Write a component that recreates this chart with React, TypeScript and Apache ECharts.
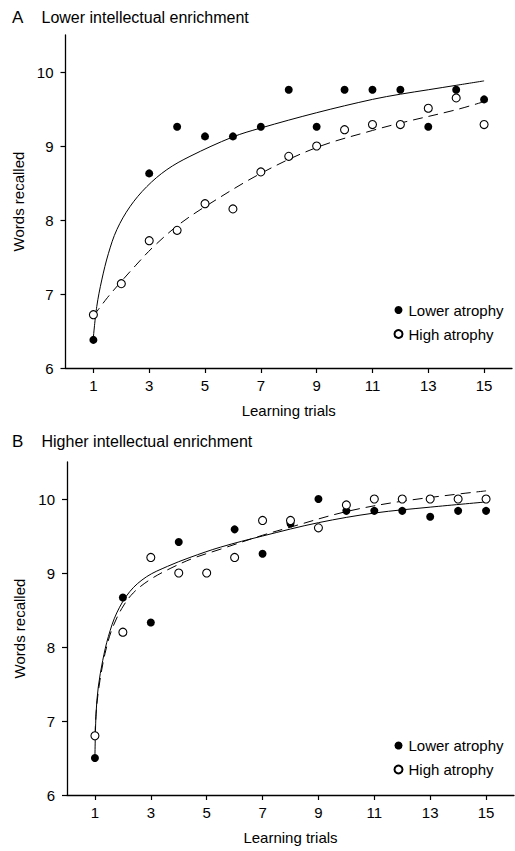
import React, { useEffect, useRef } from "react";
import * as echarts from "echarts";

// ---- data ----
const trials = [1, 2, 3, 4, 5, 6, 7, 8, 9, 10, 11, 12, 13, 14, 15];
const xTicks = [1, 3, 5, 7, 9, 11, 13, 15];
const yTicks = [6, 7, 8, 9, 10];

// Panel A: lower intellectual enrichment
const aLowerAtrophy = [6.38, 7.14, 8.63, 9.26, 9.13, 9.13, 9.26, 9.76, 9.26, 9.76, 9.76, 9.76, 9.26, 9.76, 9.63];
const aHighAtrophy = [6.72, 7.14, 7.72, 7.86, 8.22, 8.15, 8.65, 8.86, 9.0, 9.22, 9.29, 9.29, 9.51, 9.65, 9.29];

// fitted curves
const aLowerFitX = [1.0, 1.12, 1.3, 1.54, 1.84, 2.31, 2.91, 3.63, 4.46, 5.98, 6.97, 9.0, 11.0, 12.0, 13.0, 14.0, 15.0];
const aLowerFitY = [6.42, 6.83, 7.19, 7.55, 7.87, 8.18, 8.45, 8.68, 8.86, 9.12, 9.24, 9.45, 9.63, 9.7, 9.76, 9.82, 9.88];
const aHighFitX = [1.0, 1.5, 2.0, 2.5, 3.1, 4.0, 5.0, 7.0, 9.0, 11.0, 12.0, 14.0, 15.0];
const aHighFitY = [6.7, 6.95, 7.17, 7.38, 7.62, 7.92, 8.18, 8.63, 8.98, 9.21, 9.31, 9.49, 9.6];

// Panel B: higher intellectual enrichment
const bLowerAtrophy = [6.5, 8.67, 8.33, 9.42, 9.0, 9.59, 9.26, 9.67, 10.0, 9.84, 9.84, 9.84, 9.76, 9.84, 9.84];
const bHighAtrophy = [6.8, 8.2, 9.21, 9.0, 9.0, 9.21, 9.71, 9.71, 9.61, 9.92, 10.0, 10.0, 10.0, 10.0, 10.0];

const bLowerFitX = [1.0, 1.04, 1.12, 1.28, 1.48, 1.78, 2.25, 2.85, 3.6, 4.4, 5.5, 7.0, 9.0, 11.0, 13.0, 15.0];
const bLowerFitY = [6.52, 7.1, 7.46, 7.82, 8.14, 8.46, 8.75, 8.95, 9.09, 9.21, 9.35, 9.5, 9.68, 9.81, 9.89, 9.96];
const bHighFitX = [1.0, 1.06, 1.18, 1.36, 1.6, 1.96, 2.37, 2.97, 3.69, 4.52, 5.48, 7.0, 8.0, 10.0, 12.0, 15.0];
const bHighFitY = [6.8, 7.19, 7.55, 7.91, 8.23, 8.52, 8.73, 8.91, 9.06, 9.2, 9.32, 9.51, 9.62, 9.83, 9.97, 10.11];

const seriesNames = ["Lower atrophy", "High atrophy"];
const panelTitles = ["Lower intellectual enrichment", "Higher intellectual enrichment"];
const panelLetters = ["A", "B"];
const xName = "Learning trials";
const yName = "Words recalled";

const FONT = '"Liberation Sans", Arial, Helvetica, sans-serif';

const zip = (xs: number[], ys: number[]) => xs.map((x, i) => [x, ys[i]]);

export default function App() {
  const ref = useRef<HTMLDivElement>(null);

  useEffect(() => {
    if (!ref.current) return;
    const chart = echarts.init(ref.current, undefined, { renderer: "svg" });

    const grids = [
      { left: 65.5, top: 35, width: 446.5, height: 333 },
      { left: 67, top: 462, width: 447, height: 333 },
    ];

    const xAxisBase = (gridIndex: number) => ({
      type: "value",
      gridIndex,
      min: 0,
      max: 16,
      name: xName,
      nameLocation: "middle",
      nameGap: 35,
      nameTextStyle: { fontFamily: FONT, fontSize: 15, color: "#000" },
      axisLine: { show: true, lineStyle: { color: "#000", width: 1.3 } },
      axisTick: { show: true, length: 5, customValues: xTicks, lineStyle: { color: "#000", width: 1.2 } },
      axisLabel: { customValues: xTicks, margin: 10, fontFamily: FONT, fontSize: 15, color: "#000" },
      splitLine: { show: false },
    });

    const yAxisBase = (gridIndex: number) => ({
      type: "value",
      gridIndex,
      min: 6,
      max: 10.5,
      name: yName,
      nameLocation: "middle",
      nameGap: 37,
      nameTextStyle: { fontFamily: FONT, fontSize: 15, color: "#000" },
      axisLine: { show: true, lineStyle: { color: "#000", width: 1.3 } },
      axisTick: { show: true, length: 5, customValues: yTicks, lineStyle: { color: "#000", width: 1.2 } },
      axisLabel: { customValues: yTicks, margin: 12, fontFamily: FONT, fontSize: 15, color: "#000" },
      splitLine: { show: false },
    });

    const filledStyle = { color: "#000", borderColor: "#000", borderWidth: 0, opacity: 1 };
    const openStyle = { color: "#fff", borderColor: "#000", borderWidth: 1.1, opacity: 1 };

    const panelSeries = (
      idx: number,
      lower: number[],
      high: number[],
      lfx: number[],
      lfy: number[],
      hfx: number[],
      hfy: number[]
    ) => [
      {
        name: "fit-lower-" + idx,
        type: "line",
        xAxisIndex: idx,
        yAxisIndex: idx,
        data: zip(lfx, lfy),
        smooth: 0.35,
        showSymbol: false,
        symbol: "none",
        lineStyle: { color: "#000", width: 1, type: "solid" },
        z: 2,
        silent: true,
      },
      {
        name: "fit-high-" + idx,
        type: "line",
        xAxisIndex: idx,
        yAxisIndex: idx,
        data: zip(hfx, hfy),
        smooth: 0.35,
        showSymbol: false,
        symbol: "none",
        lineStyle: { color: "#000", width: 1, type: [10, 6] },
        z: 2,
        silent: true,
      },
      {
        name: seriesNames[0],
        type: "scatter",
        xAxisIndex: idx,
        yAxisIndex: idx,
        data: zip(trials, lower),
        symbol: "circle",
        symbolSize: 8,
        itemStyle: filledStyle,
        z: 3,
      },
      {
        name: seriesNames[1],
        type: "scatter",
        xAxisIndex: idx,
        yAxisIndex: idx,
        data: zip(trials, high),
        symbol: "circle",
        symbolSize: 8,
        itemStyle: openStyle,
        z: 4,
      },
    ];

    const legendBase = (top: number) => ({
      orient: "vertical",
      left: 393.5,
      top,
      padding: 0,
      itemWidth: 8,
      itemHeight: 8,
      itemGap: 9,
      icon: "circle",
      selectedMode: false,
      data: seriesNames,
      itemStyle: { opacity: 1 },
      textStyle: { fontFamily: FONT, fontSize: 15, color: "#000", lineHeight: 15, padding: [0, 0, 0, 1] },
    });

    const titleGraphic = (letterY: number, i: number) => [
      {
        type: "text",
        x: 12,
        y: letterY,
        style: { text: panelLetters[i], font: `17px ${FONT}`, fill: "#000", verticalAlign: "middle" },
      },
      {
        type: "text",
        x: 41.5,
        y: letterY,
        style: { text: panelTitles[i], font: `16px ${FONT}`, fill: "#000", verticalAlign: "middle" },
      },
    ];

    chart.setOption({
      animation: false,
      backgroundColor: "#fff",
      grid: grids,
      xAxis: [xAxisBase(0), xAxisBase(1)],
      yAxis: [yAxisBase(0), yAxisBase(1)],
      legend: [legendBase(302.5), legendBase(738)],
      graphic: [...titleGraphic(17, 0), ...titleGraphic(441, 1)],
      series: [
        ...panelSeries(0, aLowerAtrophy, aHighAtrophy, aLowerFitX, aLowerFitY, aHighFitX, aHighFitY),
        ...panelSeries(1, bLowerAtrophy, bHighAtrophy, bLowerFitX, bLowerFitY, bHighFitX, bHighFitY),
      ],
    });

    return () => chart.dispose();
  }, []);

  return (
    <div
      ref={ref}
      style={{ position: "fixed", left: 0, top: 0, width: 515, height: 851, background: "#fff" }}
    />
  );
}
